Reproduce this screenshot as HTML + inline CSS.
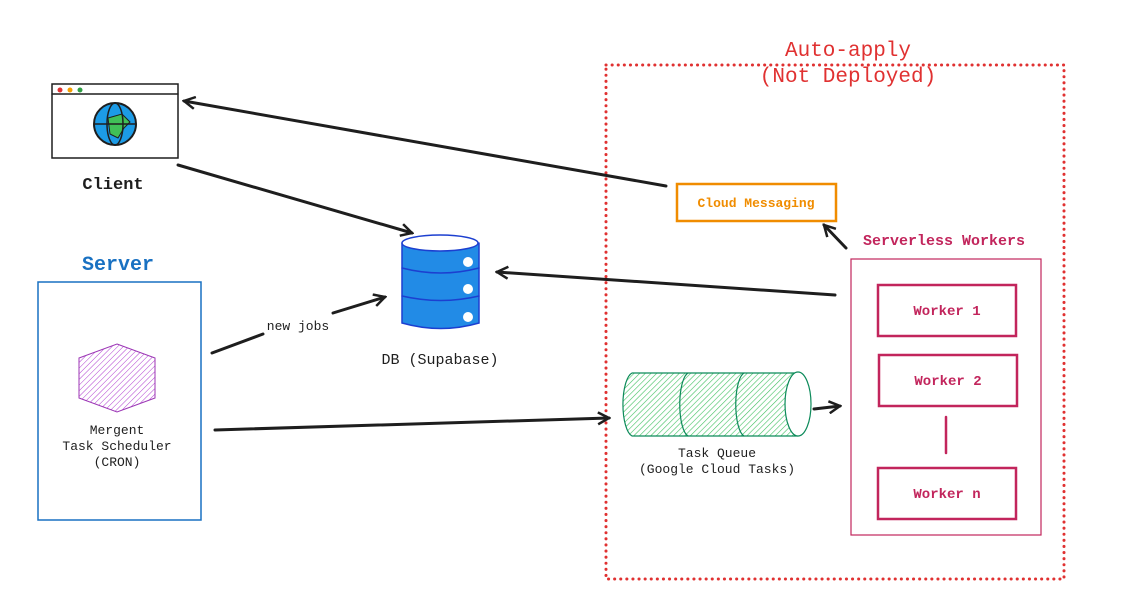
<!DOCTYPE html>
<html><head><meta charset="utf-8"><style>
html,body{margin:0;padding:0;background:#fff;width:1129px;height:613px;overflow:hidden}
text{font-family:"Liberation Mono",monospace}
</style></head><body>
<svg width="1129" height="613" viewBox="0 0 1129 613" xmlns="http://www.w3.org/2000/svg">
<defs>
<pattern id="hg" width="4" height="4" patternUnits="userSpaceOnUse" patternTransform="rotate(45)"><line x1="0" y1="0" x2="0" y2="4" stroke="#40c060" stroke-width="1.2"/></pattern>
<pattern id="hp" width="4" height="4" patternUnits="userSpaceOnUse" patternTransform="rotate(45)"><line x1="0" y1="0" x2="0" y2="4" stroke="#b040d0" stroke-width="1"/></pattern>
<marker id="a" markerWidth="14" markerHeight="14" refX="12" refY="7" orient="auto" markerUnits="userSpaceOnUse"><path d="M1,1 L12,7 L1,13" fill="none" stroke="#1e1e1e" stroke-width="2.5"/></marker>
</defs>
<g fill="none" stroke-linecap="round">
<rect x="606" y="65" width="458" height="514" stroke="#e03131" stroke-width="3" stroke-dasharray="0.1 6"/>
<rect x="52" y="84" width="126" height="74" stroke="#1e1e1e" stroke-width="1.5"/>
<line x1="52" y1="94" x2="178" y2="94" stroke="#1e1e1e" stroke-width="1.5"/>
<circle cx="60" cy="90" r="2.5" fill="#e03131" stroke="none"/><circle cx="70" cy="90" r="2.5" fill="#f59f00" stroke="none"/><circle cx="80" cy="90" r="2.5" fill="#2f9e44" stroke="none"/>
<circle cx="115" cy="124" r="21" fill="#1c9be6" stroke="#1e1e1e" stroke-width="2"/>
<path d="M108 118 L122 114 L130 122 L124 128 L118 138 L110 134 Z" fill="#40c057" stroke="#1e1e1e" stroke-width="1"/>
<ellipse cx="115" cy="124" rx="8" ry="21" stroke="#1e1e1e" stroke-width="1.5"/>
<line x1="94" y1="124" x2="136" y2="124" stroke="#1e1e1e" stroke-width="1.5"/>
<rect x="38" y="282" width="163" height="238" stroke="#1971c2" stroke-width="1.5"/>
<polygon points="117,344 155,358 155,398 117,412 79,398 79,358" fill="url(#hp)" stroke="#9c36b5" stroke-width="1"/>
<path d="M402 243 L402 323 Q441 334 479 323 L479 243" fill="#228be6" stroke="#1c3fd0" stroke-width="1.5"/>
<ellipse cx="440" cy="243" rx="38" ry="8" fill="#fff" stroke="#1c3fd0" stroke-width="1.5"/>
<path d="M402 268 Q441 278 479 268 M402 296 Q441 305 479 296" stroke="#1c3fd0" stroke-width="1.5"/>
<circle cx="468" cy="262" r="5" fill="#fff"/><circle cx="468" cy="289" r="5" fill="#fff"/><circle cx="468" cy="317" r="5" fill="#fff"/>
<rect x="677" y="184" width="159" height="37" stroke="#f08c00" stroke-width="2.5"/>
<rect x="851" y="259" width="190" height="276" stroke="#c2255c" stroke-width="1.2"/>
<rect x="878" y="285" width="138" height="51" stroke="#c2255c" stroke-width="2.5"/>
<rect x="879" y="355" width="138" height="51" stroke="#c2255c" stroke-width="2.5"/>
<rect x="878" y="468" width="138" height="51" stroke="#c2255c" stroke-width="2.5"/>
<line x1="946" y1="417" x2="946" y2="453" stroke="#c2255c" stroke-width="2.5"/>
<path d="M632 373 L798 373 A13 33 0 0 1 798 436 L632 436 A11 32 0 0 1 632 373 Z" fill="url(#hg)" stroke="#0c8a5a" stroke-width="1.2"/>
<path d="M688 373 A10 32 0 0 0 688 436 M744 373 A10 32 0 0 0 744 436" stroke="#0c8a5a" stroke-width="1.2"/>
<ellipse cx="798" cy="404" rx="13" ry="32" fill="#fff" stroke="#0c8a5a" stroke-width="1.2"/>
<g stroke="#1e1e1e" stroke-width="3">
<line x1="666" y1="186" x2="184" y2="101" marker-end="url(#a)"/>
<line x1="178" y1="165" x2="412" y2="233" marker-end="url(#a)"/>
<line x1="212" y1="353" x2="263" y2="334"/>
<line x1="333" y1="313" x2="385" y2="297" marker-end="url(#a)"/>
<line x1="835" y1="295" x2="497" y2="272" marker-end="url(#a)"/>
<line x1="846" y1="248" x2="824" y2="225" marker-end="url(#a)"/>
<line x1="215" y1="430" x2="609" y2="418" marker-end="url(#a)"/>
<line x1="814" y1="409" x2="840" y2="406" marker-end="url(#a)"/>
</g>
</g>
<g font-size="13">
<text x="848" y="56" text-anchor="middle" font-size="21" fill="#e03131">Auto-apply</text>
<text x="848" y="82" text-anchor="middle" font-size="21" fill="#e03131">(Not Deployed)</text>
<text x="113" y="189" text-anchor="middle" font-size="17" font-weight="bold" fill="#1e1e1e">Client</text>
<text x="118" y="270" text-anchor="middle" font-size="20" font-weight="bold" fill="#1971c2">Server</text>
<text x="298" y="330" text-anchor="middle" fill="#1e1e1e">new jobs</text>
<text x="440" y="364" text-anchor="middle" font-size="15" fill="#1e1e1e">DB (Supabase)</text>
<text x="117" y="434" text-anchor="middle" fill="#1e1e1e">Mergent</text>
<text x="117" y="450" text-anchor="middle" fill="#1e1e1e">Task Scheduler</text>
<text x="117" y="466" text-anchor="middle" fill="#1e1e1e">(CRON)</text>
<text x="756" y="207" text-anchor="middle" font-weight="bold" fill="#f08c00">Cloud Messaging</text>
<text x="944" y="245" text-anchor="middle" font-size="15" font-weight="bold" fill="#c2255c">Serverless Workers</text>
<text x="947" y="315" text-anchor="middle" font-size="14" font-weight="bold" fill="#c2255c">Worker 1</text>
<text x="948" y="385" text-anchor="middle" font-size="14" font-weight="bold" fill="#c2255c">Worker 2</text>
<text x="947" y="498" text-anchor="middle" font-size="14" font-weight="bold" fill="#c2255c">Worker n</text>
<text x="717" y="457" text-anchor="middle" fill="#1e1e1e">Task Queue</text>
<text x="717" y="473" text-anchor="middle" fill="#1e1e1e">(Google Cloud Tasks)</text>
</g>
</svg>
</body></html>
